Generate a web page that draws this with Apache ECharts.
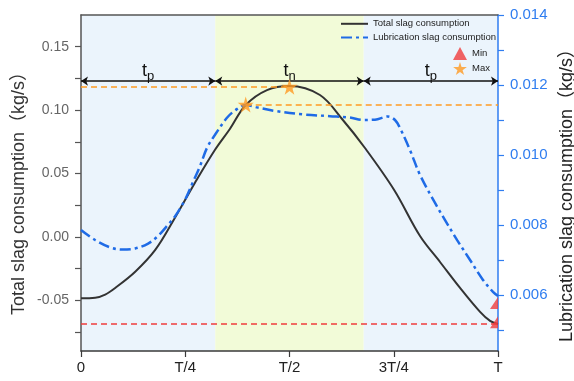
<!DOCTYPE html>
<html><head><meta charset="utf-8">
<script src="https://cdn.jsdelivr.net/npm/echarts@6/dist/echarts.min.js"></script>
<style>html,body{margin:0;padding:0;background:#fff}#c{width:574px;height:381px}</style>
</head><body><div id="c"></div>
<script>
// ---- data ----
const xTickLabels = ['0', 'T/4', 'T/2', '3T/4', 'T'];
const leftLabelValues = [-0.05, 0, 0.05, 0.10, 0.15];
const leftTickValues = [-0.075, -0.05, -0.025, 0, 0.025, 0.05, 0.075, 0.10, 0.125, 0.15];
const rightLabelValues = [0.006, 0.008, 0.010, 0.012, 0.014];
const rightTickValues = [0.005, 0.006, 0.007, 0.008, 0.009, 0.010, 0.011, 0.012, 0.013, 0.014];

const totalT = [0, 0.034, 0.058, 0.082, 0.13, 0.178, 0.225, 0.273, 0.321, 0.357, 0.395, 0.446, 0.5, 0.573, 0.628, 0.681, 0.751, 0.813, 0.861, 0.909, 0.957, 0.981, 1];
const totalV = [-0.0484, -0.0480, -0.0455, -0.0403, -0.0275, -0.0103, 0.0149, 0.0425, 0.0685, 0.0851, 0.104, 0.1158, 0.119, 0.1119, 0.0922, 0.0701, 0.037, 0.0007, -0.0198, -0.0403, -0.0592, -0.0663, -0.0687];

const lubT = [0, 0.034, 0.070, 0.098, 0.13, 0.161, 0.185, 0.206, 0.225, 0.249, 0.269, 0.285, 0.302, 0.321, 0.349, 0.369, 0.395, 0.422, 0.465, 0.532, 0.597, 0.645, 0.676, 0.705, 0.736, 0.753, 0.765, 0.789, 0.813, 0.849, 0.873, 0.902, 0.933, 0.964, 0.988, 1];
const lubV = [0.00786, 0.00757, 0.00736, 0.00730, 0.00733, 0.00747, 0.00769, 0.00797, 0.00824, 0.00871, 0.00924, 0.00967, 0.01020, 0.01057, 0.01105, 0.01127, 0.01143, 0.01136, 0.01126, 0.01116, 0.01111, 0.01107, 0.01100, 0.01101, 0.01110, 0.01100, 0.01077, 0.01014, 0.00943, 0.00863, 0.00814, 0.00757, 0.00700, 0.00643, 0.00609, 0.00597];

// phase boundaries (fraction of T)
const phaseEdges = [0, 0.322, 0.678, 1];
const phaseNames = ['p', 'n', 'p'];
const arrowLevel = 0.1229;       // left-axis value of arrow row

// reference levels
const totalMax = [0.5, 0.1185];
const lubMax = [0.395, 0.01144];
const totalMinLevel = -0.0689;
const totalMinMark = [1, -0.0673];
const lubMinMark = [1, 0.00577];

// ---- chart ----
const BLUE = '#1f6be6';
const AXBLUE = '#2f7df0';
const RED = '#f03c3c';
const ORANGE = '#ff9a22';
const STAR = 'path://M50,0 L61,35 L98,35 L68,57 L79,91 L50,70 L21,91 L32,57 L2,35 L39,35 Z';
const HALFTRI = 'path://M0,12 L8,0 L8,12 Z';
const FONT = 'Liberation Sans, Arial, Noto Sans CJK SC, sans-serif';

const chart = echarts.init(document.getElementById('c'));
const zip = (a, b) => a.map((v, i) => [v, b[i]]);

const bandColors = ['#ebf4fc', '#f2fbd8', '#ebf4fc'];
const bands = phaseNames.map((n, i) => [
  { xAxis: phaseEdges[i], itemStyle: { color: bandColors[i] } },
  { xAxis: phaseEdges[i + 1] }
]);
const arrows = phaseNames.map((n, i) => [
  { name: '{t|t}{s|' + n + '}', coord: [phaseEdges[i], arrowLevel] },
  { coord: [phaseEdges[i + 1], arrowLevel] }
]);

chart.setOption({
  animation: false,
  textStyle: { fontFamily: FONT },
  grid: { left: 81, right: 76, top: 15, bottom: 30 },
  xAxis: [{
    type: 'value', min: 0, max: 1, interval: 0.25,
    axisLine: { onZero: false, lineStyle: { color: '#3a3a3a', width: 1.5 } },
    axisTick: { length: 6, lineStyle: { color: '#3a3a3a', width: 1.2 } },
    axisLabel: { formatter: v => xTickLabels[Math.round(v * 4)], color: '#222', fontSize: 15, margin: 9, fontFamily: FONT },
    splitLine: { show: false }
  }, {
    type: 'value', position: 'top', min: 0, max: 1,
    axisLine: { show: true, onZero: false, lineStyle: { color: '#555', width: 1.5 } },
    axisTick: { show: false }, axisLabel: { show: false }, splitLine: { show: false }
  }],
  yAxis: [{
    type: 'value', position: 'left', min: -0.09, max: 0.175,
    axisLine: { show: true, onZero: false, lineStyle: { color: '#555', width: 1.5 } },
    axisTick: { show: true, customValues: leftTickValues, length: 6, lineStyle: { color: '#555', width: 1.2 } },
    axisLabel: { customValues: leftLabelValues, formatter: v => v.toFixed(2), color: '#666', fontSize: 14, margin: 12, fontFamily: FONT },
    splitLine: { show: false }
  }, {
    type: 'value', position: 'right', min: 0.0044, max: 0.014,
    axisLine: { show: true, onZero: false, lineStyle: { color: AXBLUE, width: 1.5 } },
    axisTick: { show: true, customValues: rightTickValues, length: 6, lineStyle: { color: AXBLUE, width: 1.2 } },
    axisLabel: { customValues: rightLabelValues, formatter: v => v.toFixed(3), color: AXBLUE, fontSize: 15, margin: 12, fontFamily: FONT },
    splitLine: { show: false }
  }],
  legend: [{
    orient: 'vertical', left: 340, top: 19, padding: 0,
    itemWidth: 27, itemHeight: 12, itemGap: 4,
    itemStyle: { opacity: 0, borderWidth: 0 },
    textStyle: { fontSize: 9.5, color: '#222', fontFamily: FONT },
    data: ['Total slag consumption', 'Lubrication slag consumption']
  }, {
    orient: 'vertical', left: 453, top: 47, padding: 0,
    itemWidth: 14, itemHeight: 13, itemGap: 2,
    textStyle: { fontSize: 9.5, color: '#222', fontFamily: FONT },
    data: [{ name: 'Min', icon: 'triangle' }, { name: 'Max', icon: STAR }]
  }],
  graphic: [{
    type: 'text', x: 19, y: 189, rotation: Math.PI / 2,
    style: { text: 'Total slag consumption（kg/s）', font: '18px ' + FONT, fill: '#333', align: 'center', verticalAlign: 'middle' }
  }, {
    type: 'text', x: 567, y: 191, rotation: Math.PI / 2,
    style: { text: 'Lubrication slag consumption（kg/s）', font: '18px ' + FONT, fill: '#222', align: 'center', verticalAlign: 'middle' }
  }],
  series: [{
    name: 'bands', type: 'line', z: -1, xAxisIndex: 0, yAxisIndex: 0,
    data: [], symbol: 'none', silent: true,
    markArea: { silent: true, z: -1, data: bands }
  }, {
    name: 'phases', type: 'line', z: 5, xAxisIndex: 0, yAxisIndex: 0,
    data: [], symbol: 'none', silent: true,
    markLine: {
      silent: true, symbol: ['arrow', 'arrow'], symbolSize: 7,
      lineStyle: { color: '#111', width: 1.5, type: 'solid' },
      label: {
        show: true, position: 'middle', distance: 1,
        formatter: p => p.name,
        rich: {
          t: { fontSize: 18, lineHeight: 18, color: '#111', verticalAlign: 'top', fontFamily: FONT },
          s: { fontSize: 13, lineHeight: 13, color: '#111', verticalAlign: 'top', padding: [8, 0, 0, 0], fontFamily: FONT }
        }
      },
      data: arrows
    }
  }, {
    name: 'Total slag consumption', type: 'line', xAxisIndex: 0, yAxisIndex: 0,
    data: zip(totalT, totalV), symbol: 'none', smooth: 0.35, z: 3,
    lineStyle: { color: '#333', width: 2 }, itemStyle: { color: '#333' },
    markLine: {
      silent: true, symbol: 'none', label: { show: false },
      data: [
        [{ coord: [0, totalMax[1]], lineStyle: { color: ORANGE, type: [6, 4], width: 1.5 } }, { coord: totalMax }],
        [{ coord: [0, totalMinLevel], lineStyle: { color: RED, type: [6, 4], width: 1.5 } }, { coord: [1, totalMinLevel] }]
      ]
    }
  }, {
    name: 'Lubrication slag consumption', type: 'line', xAxisIndex: 0, yAxisIndex: 1,
    data: zip(lubT, lubV), symbol: 'none', smooth: 0.35, z: 3,
    lineStyle: { color: BLUE, width: 2.5, type: [11, 4, 3, 4] }, itemStyle: { color: BLUE },
    markLine: {
      silent: true, symbol: 'none', label: { show: false },
      data: [
        [{ coord: lubMax, lineStyle: { color: ORANGE, type: [6, 4], width: 1.5 } }, { coord: [1, lubMax[1]] }]
      ]
    }
  }, {
    name: 'Max', type: 'scatter', xAxisIndex: 0, yAxisIndex: 0, z: 6, clip: false,
    symbol: STAR, symbolSize: 16, itemStyle: { color: ORANGE },
    data: [totalMax]
  }, {
    name: 'Max', type: 'scatter', xAxisIndex: 0, yAxisIndex: 1, z: 6, clip: false,
    symbol: STAR, symbolSize: 16, itemStyle: { color: ORANGE },
    data: [lubMax]
  }, {
    name: 'Min', type: 'scatter', xAxisIndex: 0, yAxisIndex: 0, z: 6, clip: false,
    symbol: HALFTRI, symbolSize: [8, 12], symbolOffset: [-4, 0], itemStyle: { color: RED },
    data: [totalMinMark]
  }, {
    name: 'Min', type: 'scatter', xAxisIndex: 0, yAxisIndex: 1, z: 6, clip: false,
    symbol: HALFTRI, symbolSize: [8, 12], symbolOffset: [-4, 0], itemStyle: { color: RED },
    data: [lubMinMark]
  }]
});
</script></body></html>
